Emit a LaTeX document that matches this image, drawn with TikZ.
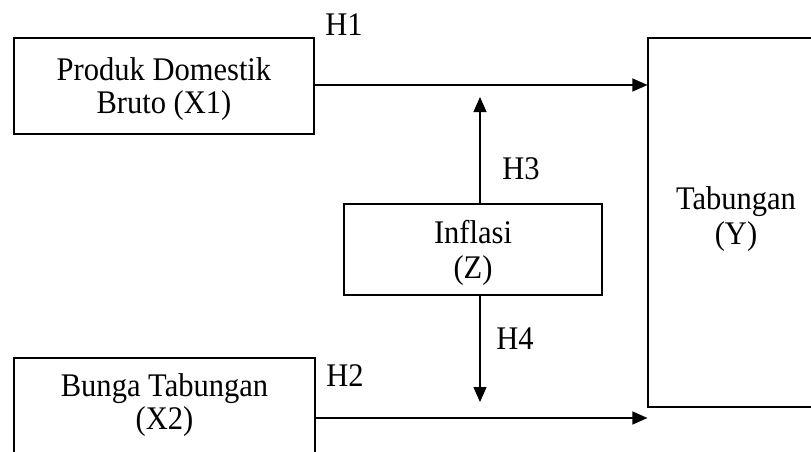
\documentclass[tikz,border=0pt]{standalone}
\usepackage{fontspec}
\setmainfont[FakeStretch=0.925]{Liberation Serif}
\usetikzlibrary{arrows.meta}
\begin{document}
\begin{tikzpicture}[x=1pt,y=-1pt,
  box/.style={draw,line width=1.1pt,inner sep=0pt,align=center,text depth=0pt,
    font=\fontsize{33}{33}\selectfont},
  lbl/.style={inner sep=0pt,font=\fontsize{33}{33}\selectfont},
  conn/.style={line width=1.1pt,-{Triangle[length=15pt,width=13pt]}}]
\useasboundingbox (0,0) rectangle (811,452);
\clip (0,0) rectangle (811,452);
\node[box,minimum width=300pt,minimum height=96pt] (X1) at (164,86) {Produk Domestik\\Bruto (X1)};
\node[box,minimum width=301pt,minimum height=96pt,text depth=9pt] (X2) at (164.5,406) {Bunga Tabungan\\(X2)};
\node[box,minimum width=258pt,minimum height=91pt,font=\fontsize{33}{35}\selectfont] (Z) at (473,249.5) {Inflasi\\(Z)};
\node[box,minimum width=176pt,minimum height=369pt,text depth=13pt,font=\fontsize{33}{35}\selectfont] (Y) at (736,222.5) {Tabungan\\(Y)};
\coordinate (h1y) at (0,85);
\coordinate (h2y) at (0,418);
\coordinate (up) at (480,97);
\coordinate (down) at (480,402);
\draw[conn] (X1.east |- h1y) -- (Y.west |- h1y);
\draw[conn] (X2.east |- h2y) -- (Y.west |- h2y);
\draw[conn] (Z.north -| up) -- (up);
\draw[conn] (Z.south -| down) -- (down);
\node[lbl] (H1) at (344,25) {H1};
\node[lbl] (H2) at (345,376) {H2};
\node[lbl] (H3) at (521,169) {H3};
\node[lbl] (H4) at (515,339) {H4};
\end{tikzpicture}
\end{document}
